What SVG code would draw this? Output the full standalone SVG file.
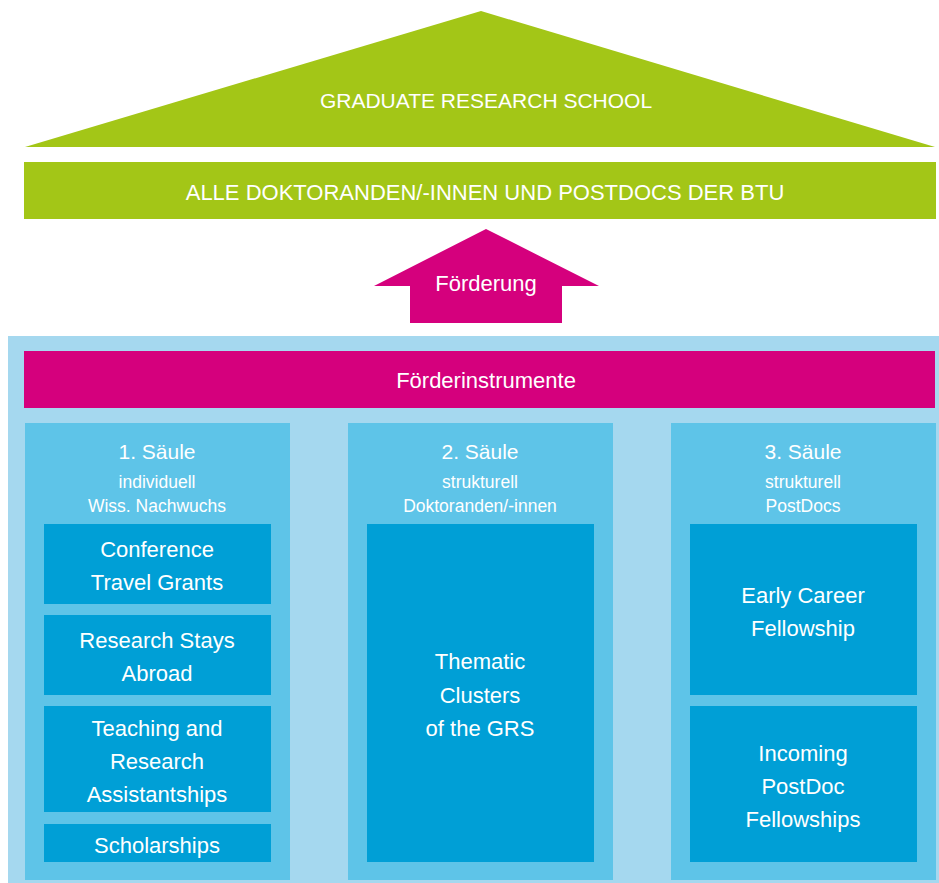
<svg xmlns="http://www.w3.org/2000/svg" width="939" height="883" viewBox="0 0 939 883">
<style>
text{font-family:"Liberation Sans",Arial,sans-serif;fill:#fff;text-anchor:middle}
.green{fill:#a3c617}
.mag{fill:#d5007d}
.bg{fill:#a5d8ef}
.pillar{fill:#5ec4e8}
.box{fill:#009fd6}
.t21{font-size:21px}
.t22{font-size:22px}
.t17{font-size:17.5px}
</style>
<rect width="939" height="883" fill="#fff"/>
<g id="roof">
<polygon class="green" points="25,147 481,11 935,147"/>
<text class="t21" x="486" y="108">GRADUATE RESEARCH SCHOOL</text>
</g>
<g id="all">
<rect class="green" x="24" y="162" width="912" height="57"/>
<text class="t22" x="485" y="200">ALLE DOKTORANDEN/-INNEN UND POSTDOCS DER BTU</text>
</g>
<g id="foerderung">
<polygon class="mag" points="486,229 599,286 562,286 562,323 410,323 410,286 374,286"/>
<text class="t22" x="486" y="291">Förderung</text>
</g>
<g id="base">
<rect class="bg" x="8" y="336" width="931" height="547"/>
</g>
<g id="instrumente">
<rect class="mag" x="24" y="351" width="911" height="57"/>
<text class="t22" x="486" y="388">Förderinstrumente</text>
</g>
<g id="saeule1">
<rect class="pillar" x="25" y="423" width="265" height="457"/>
<text class="t21" x="157" y="459">1. Säule</text>
<text class="t17" x="157" y="488">individuell</text>
<text class="t17" x="157" y="512">Wiss. Nachwuchs</text>
</g>
<g id="conference">
<rect class="box" x="44" y="524" width="227" height="80"/>
<text class="t22" x="157" y="557">Conference</text>
<text class="t22" x="157" y="590">Travel Grants</text>
</g>
<g id="research-stays">
<rect class="box" x="44" y="615" width="227" height="80"/>
<text class="t22" x="157" y="648">Research Stays</text>
<text class="t22" x="157" y="681">Abroad</text>
</g>
<g id="assistantships">
<rect class="box" x="44" y="706" width="227" height="106"/>
<text class="t22" x="157" y="736">Teaching and</text>
<text class="t22" x="157" y="769">Research</text>
<text class="t22" x="157" y="802">Assistantships</text>
</g>
<g id="scholarships">
<rect class="box" x="44" y="824" width="227" height="38"/>
<text class="t22" x="157" y="853">Scholarships</text>
</g>
<g id="saeule2">
<rect class="pillar" x="348" y="423" width="265" height="457"/>
<text class="t21" x="480" y="459">2. Säule</text>
<text class="t17" x="480" y="488">strukturell</text>
<text class="t17" x="480" y="512">Doktoranden/-innen</text>
</g>
<g id="clusters">
<rect class="box" x="367" y="524" width="227" height="338"/>
<text class="t22" x="480" y="669">Thematic</text>
<text class="t22" x="480" y="703">Clusters</text>
<text class="t22" x="480" y="736">of the GRS</text>
</g>
<g id="saeule3">
<rect class="pillar" x="671" y="423" width="265" height="457"/>
<text class="t21" x="803" y="459">3. Säule</text>
<text class="t17" x="803" y="488">strukturell</text>
<text class="t17" x="803" y="512">PostDocs</text>
</g>
<g id="early-career">
<rect class="box" x="690" y="524" width="227" height="171"/>
<text class="t22" x="803" y="603">Early Career</text>
<text class="t22" x="803" y="636">Fellowship</text>
</g>
<g id="incoming">
<rect class="box" x="690" y="706" width="227" height="156"/>
<text class="t22" x="803" y="761">Incoming</text>
<text class="t22" x="803" y="794">PostDoc</text>
<text class="t22" x="803" y="827">Fellowships</text>
</g>
<g id="connectors"></g>
</svg>
